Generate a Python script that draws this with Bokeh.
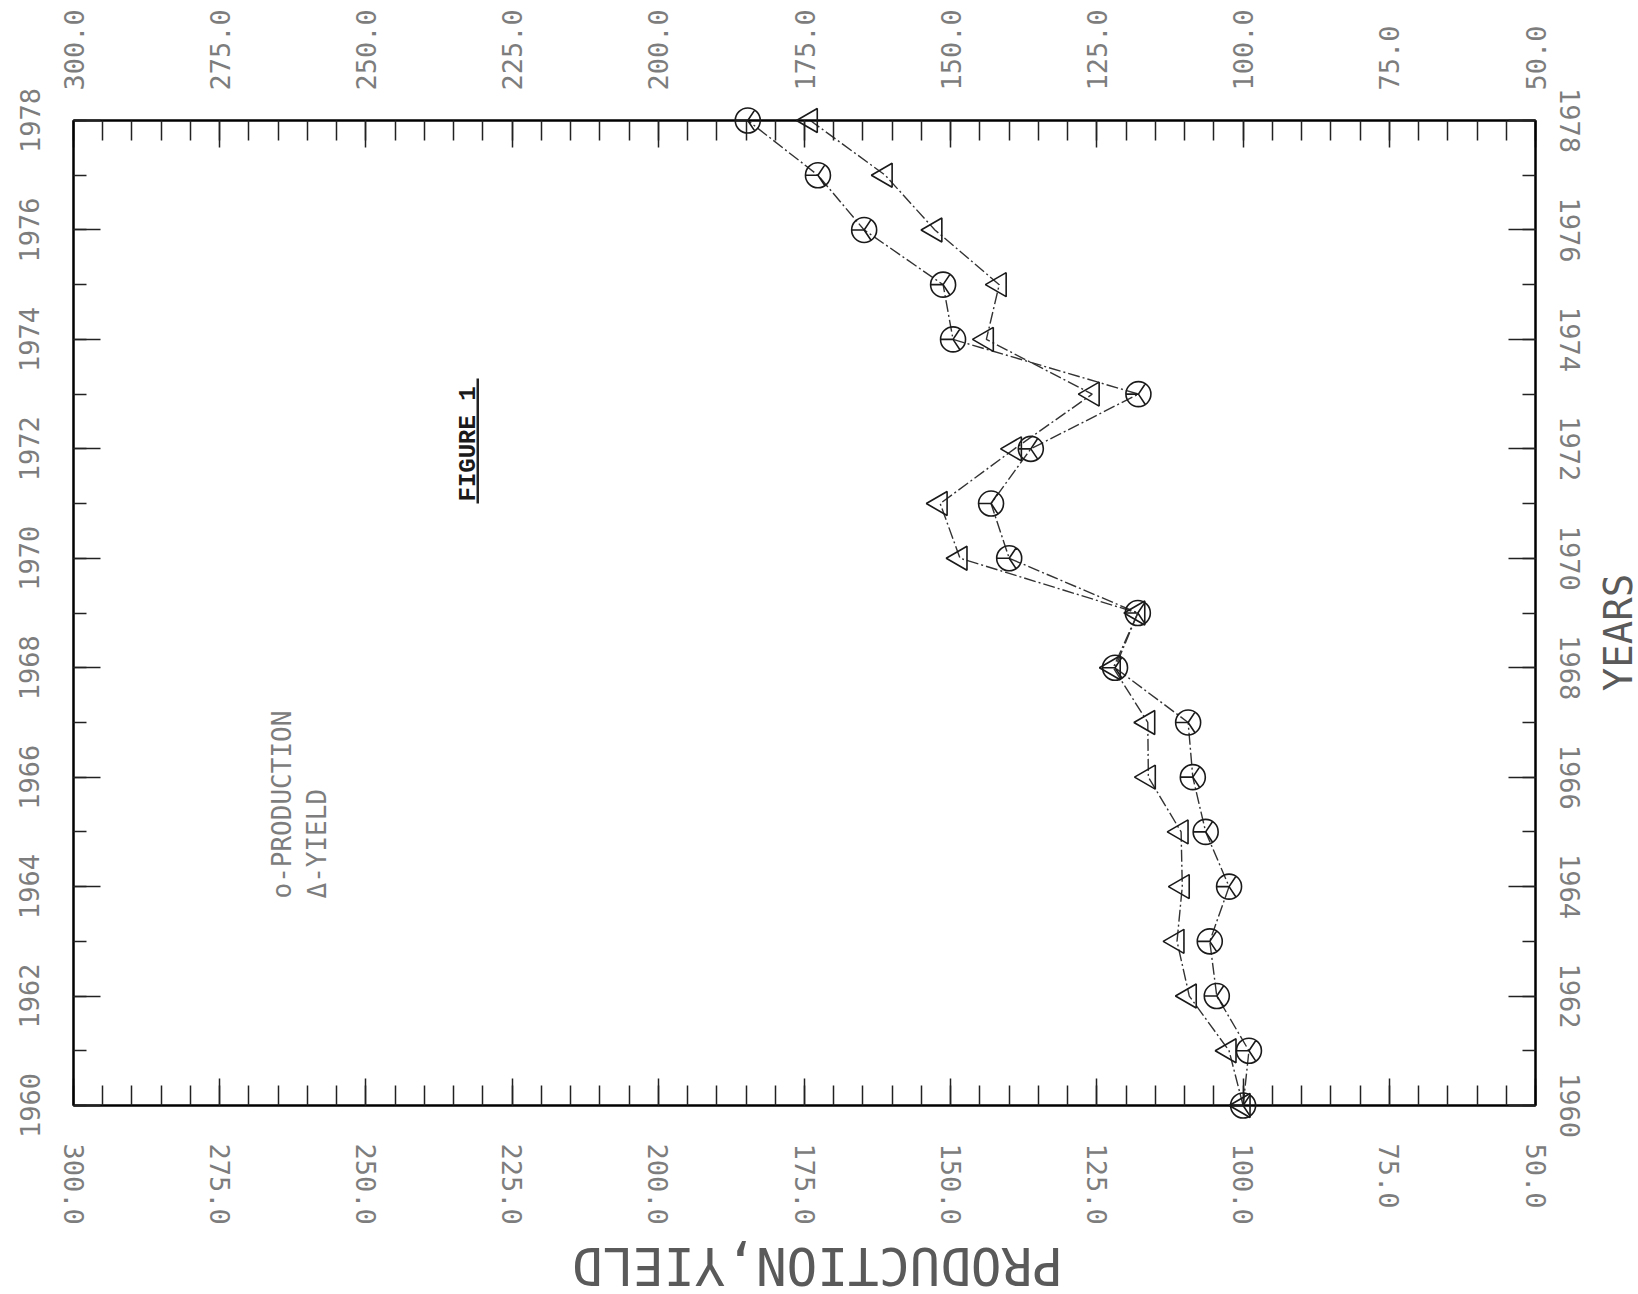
import math

from bokeh.plotting import figure
from bokeh.layouts import row, column
from bokeh.models import Range1d, LinearAxis, FixedTicker, PrintfTickFormatter, Label, BoxAnnotation
from bokeh.embed import file_html
from bokeh.resources import INLINE

# ---- data: production and yield indices, 1960 = 100 ----
years = list(range(1960, 1979))
production = [100.0, 99.0, 104.5, 105.7, 102.4, 106.4, 108.6, 109.4, 121.9, 118.0,
              140.0, 143.1, 136.3, 117.9, 149.6, 151.3, 164.8, 172.7, 184.7]
yield_index = [100.0, 102.4, 109.2, 111.3, 110.4, 110.6, 116.2, 116.3, 122.2, 118.0,
               148.4, 151.8, 139.1, 125.8, 143.9, 141.7, 152.7, 161.2, 174.0]

value_ticks = [300, 275, 250, 225, 200, 175, 150, 125, 100, 75, 50]
value_minor = list(range(50, 301, 5))
year_ticks = list(range(1960, 1979, 2))
year_minor = list(range(1960, 1979))

# ---- page geometry ----
PAGE_W, PAGE_H = 1638, 1294
STRIP_R = 46          # strip on the right holding the year title
STRIP_B = 58          # strip at the bottom holding the value title
W, H = PAGE_W - STRIP_R, PAGE_H - STRIP_B
LEFT, TOP = 73, 120
FRAME_R, FRAME_B = 1535, 1105
RIGHT, BOTTOM = W - FRAME_R, H - FRAME_B
FW, FH = W - LEFT - RIGHT, H - TOP - BOTTOM
X0, X1 = 300, 50
Y0, Y1 = 1960, 1978


def sx(px):
    """page pixel column -> value coordinate"""
    return X0 + (px - LEFT) * (X1 - X0) / FW


def sy(py):
    """page pixel row -> year coordinate"""
    return Y1 - (py - TOP) * (Y1 - Y0) / FH


p = figure(width=W, height=H,
           x_range=Range1d(X0, X1), y_range=Range1d(Y0, Y1),
           output_backend="svg", toolbar_location=None,
           min_border_left=LEFT, min_border_right=RIGHT,
           min_border_top=TOP, min_border_bottom=BOTTOM)
p.xgrid.visible = False
p.ygrid.visible = False
p.outline_line_color = "black"
p.outline_line_width = 2
p.background_fill_color = "white"
p.border_fill_color = "white"

LABEL_FONT = "DejaVu Sans Mono"
LABEL_COLOR = "#7d7d7d"
TITLE_COLOR = "#5a5a5a"


def style_axis(ax, ticks, minor, fmt, standoff, major_in, minor_in):
    ax.ticker = FixedTicker(ticks=ticks, minor_ticks=minor)
    ax.formatter = PrintfTickFormatter(format=fmt)
    ax.major_label_orientation = "vertical"
    ax.major_label_text_font = LABEL_FONT
    ax.major_label_text_font_size = "27px"
    ax.major_label_text_color = LABEL_COLOR
    ax.major_label_standoff = standoff
    ax.major_tick_in = major_in
    ax.major_tick_out = 0
    ax.minor_tick_in = minor_in
    ax.minor_tick_out = 0
    ax.major_tick_line_color = "#222222"
    ax.minor_tick_line_color = "#222222"
    ax.major_tick_line_width = 1.5
    ax.minor_tick_line_width = 1.5
    ax.axis_line_color = "black"
    ax.axis_line_width = 2


top_axis = LinearAxis()
right_axis = LinearAxis()
p.add_layout(top_axis, "above")
p.add_layout(right_axis, "right")

style_axis(p.below[0], value_ticks, value_minor, "%.1f", 38, 27, 20)
style_axis(top_axis, value_ticks, value_minor, "%.1f", 30, 27, 20)
style_axis(p.left[0], year_ticks, year_minor, "%d", 34, 27, 13)
style_axis(right_axis, year_ticks, year_minor, "%d", 24, 27, 13)

# ---- series ----
p.line(x=production, y=years, line_color="#333333", line_width=1.4, line_dash="12 3 2 3")
p.line(x=yield_index, y=years, line_color="#333333", line_width=1.4, line_dash="12 3 2 3")

p.scatter(x=production, y=years, marker="circle_y", size=25, angle=-math.pi / 2,
          line_color="#1a1a1a", fill_color=None, line_width=1.6, level="overlay")
p.scatter(x=yield_index, y=years, marker="triangle", size=24, angle=math.pi / 2,
          line_color="#1a1a1a", fill_color=None, line_width=1.6, level="overlay")

# ---- texts inside the frame ----
p.add_layout(Label(x=sx(468), y=sy(501), text="FIGURE 1", angle=math.pi / 2,
                   text_font="Liberation Mono", text_font_size="24px", text_font_style="bold",
                   text_color="#1a1a1a", text_align="left", text_baseline="alphabetic"))
p.add_layout(BoxAnnotation(left=sx(476), right=sx(478.5), top=sy(378), bottom=sy(503),
                           fill_color="#222222", fill_alpha=1.0, line_color=None,
                           level="overlay"))

p.add_layout(Label(x=sx(281), y=sy(898), text="o-PRODUCTION", angle=math.pi / 2,
                   text_font=LABEL_FONT, text_font_size="26px", text_color=LABEL_COLOR,
                   text_align="left", text_baseline="alphabetic"))
p.add_layout(Label(x=sx(316), y=sy(898), text="Δ-YIELD", angle=math.pi / 2,
                   text_font=LABEL_FONT, text_font_size="26px", text_color=LABEL_COLOR,
                   text_align="left", text_baseline="alphabetic"))


# ---- title strips: value title upside down below, year title reading upward on the right ----
def strip(width, height):
    f = figure(width=width, height=height, x_range=Range1d(0, width), y_range=Range1d(height, 0),
               output_backend="svg", toolbar_location=None,
               x_axis_type=None, y_axis_type=None, min_border=0)
    f.xgrid.visible = False
    f.ygrid.visible = False
    f.outline_line_color = None
    f.background_fill_color = "white"
    f.border_fill_color = "white"
    return f


bottom_strip = strip(W, STRIP_B)
bottom_strip.add_layout(Label(x=810, y=1265 - H, text="PRODUCTION,YIELD", angle=math.pi,
                              text_font=LABEL_FONT, text_font_size="51px",
                              text_color=TITLE_COLOR, text_align="center",
                              text_baseline="middle"))

right_strip = strip(STRIP_R, PAGE_H)
right_strip.add_layout(Label(x=1618 - W, y=632, text="YEARS", angle=math.pi / 2,
                             text_font=LABEL_FONT, text_font_size="39px",
                             text_color=TITLE_COLOR, text_align="center",
                             text_baseline="middle"))

layout = row(column(p, bottom_strip, spacing=0), right_strip, spacing=0)

open("out.html", "w").write(file_html(layout, INLINE))
